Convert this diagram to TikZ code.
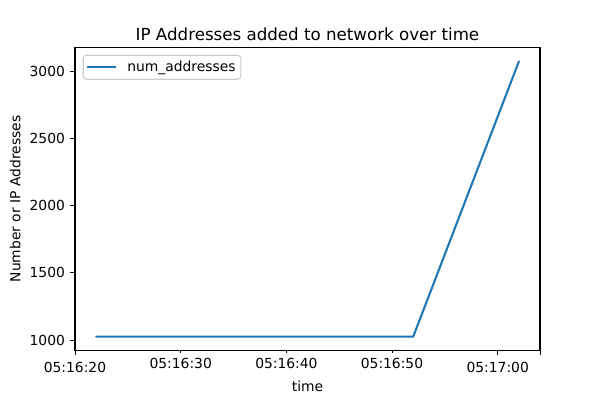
\documentclass[tikz,border=0pt]{standalone}
\usepackage{fontspec}
\setmainfont{DejaVu Sans}
\definecolor{tabblue}{HTML}{1F77B4}
\definecolor{legedge}{HTML}{CCCCCC}
\begin{document}
\begin{tikzpicture}[x=0.75pt,y=-0.75pt,
  axisline/.style={line width=0.83pt, black},
  majortick/.style={line width=0.6pt, black},
  minortick/.style={line width=0.45pt, black},
  ticklab/.style={font=\fontsize{10.4}{12}\selectfont, inner sep=0pt},
  axlab/.style={font=\fontsize{10.4}{12}\selectfont, inner sep=0pt},
  titlelab/.style={font=\fontsize{12.5}{15}\selectfont, inner sep=0pt},
  dataline/.style={line width=1.56pt, tabblue, line join=round, line cap=round},
  legendbox/.style={draw=legedge, line width=0.8pt, fill=white, rounded corners=2.5}]
\useasboundingbox (0,0) rectangle (600,400);
\fill[white] (0,0) rectangle (600,400);
% legend-independent data line
\coordinate (p1) at (96.1,336.7);
\coordinate (p2) at (413.2,336.7);
\coordinate (p3) at (518.9,61.4);
\draw[dataline] (p1) -- (p2) -- (p3);
% axes frame
\coordinate (ax-sw) at (75,350.4);
\coordinate (ax-ne) at (540,47.8);
\draw[axisline] (ax-sw) rectangle (ax-ne);
% y ticks
\foreach \v/\yy in {1000/340.0,1500/272.8,2000/205.6,2500/138.4,3000/71.2}{
  \coordinate (yt\v) at (75,\yy);
  \draw[majortick] (yt\v) -- ++(-4.9,0);
  \node[ticklab, anchor=east] (ylab\v) at (65.2,\yy) {\v};
}
% x ticks: major
\foreach \n/\xx/\lab in {a/75/05:16:20, e/497.7/05:17:00}{
  \coordinate (xt\n) at (\xx,350.4);
  \draw[majortick] (xt\n) -- ++(0,4.9);
  \node[ticklab, anchor=north] (xlab\n) at (\xx,361.7) {\lab};
}
\coordinate (xtf) at (540,350.4);
\draw[majortick] (xtf) -- ++(0,4.9);
% x ticks: minor
\foreach \n/\xx/\lab in {b/180.7/05:16:30, c/286.4/05:16:40, d/392.0/05:16:50}{
  \coordinate (xt\n) at (\xx,350.4);
  \draw[minortick] (xt\n) -- ++(0,2.8);
  \node[ticklab, anchor=north] (xlab\n) at (\xx,358.3) {\lab};
}
% axis labels and title
\node[axlab, anchor=base] (xlabel) at (307.5,391) {time};
\node[axlab, anchor=base, rotate=90] (ylabel) at (20.3,199) {Number or IP Addresses};
\node[titlelab, anchor=base] (title) at (307.5,40.5) {IP Addresses added to network over time};
% legend
\node[legendbox, minimum width=157.6*0.75pt, minimum height=24*0.75pt, anchor=north west, inner sep=0pt] (legend) at (82.7,54.7) {};
\coordinate (ls1) at (87,66.7);
\coordinate (ls2) at (116,66.7);
\draw[dataline, line cap=butt] (ls1) -- (ls2);
\node[axlab, anchor=base west] (legtext) at (127,71.5) {num\_addresses};
\end{tikzpicture}
\end{document}
